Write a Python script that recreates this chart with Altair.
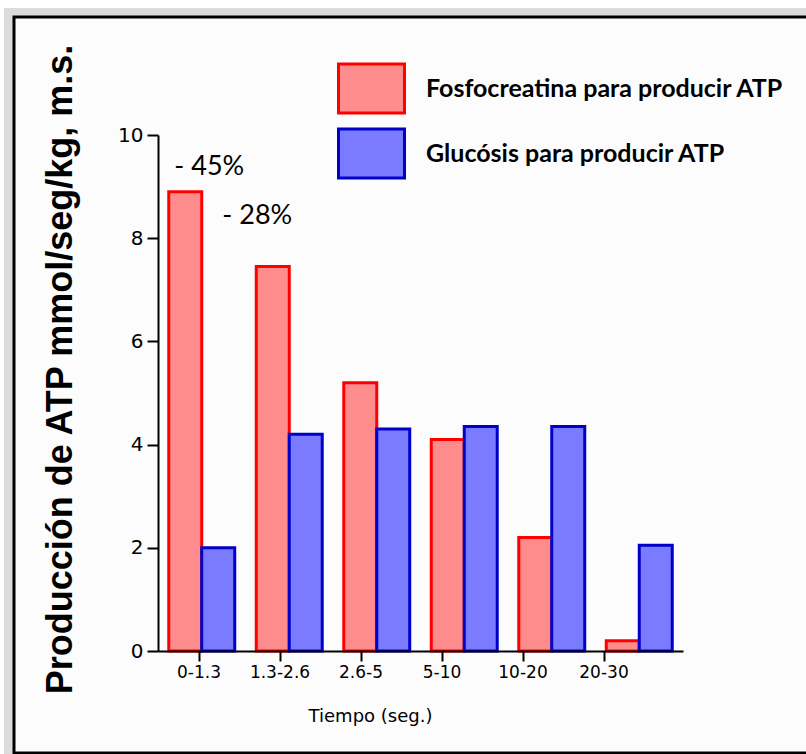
import altair as alt
import pandas as pd

# Time windows and ATP production rates (mmol/s/kg dry muscle)
tiempos = ["0-1.3", "1.3-2.6", "2.6-5", "5-10", "10-20", "20-30"]
fosfocreatina = [8.9, 7.45, 5.2, 4.1, 2.2, 0.2]
glucolisis = [2.0, 4.2, 4.3, 4.35, 4.35, 2.05]
series = ["Fosfocreatina para producir ATP", "Glucósis para producir ATP"]
caidas = ["- 45%", "- 28%"]
y_ticks = [0, 2, 4, 6, 8, 10]

rows = []
for t, f, g in zip(tiempos, fosfocreatina, glucolisis):
    rows.append({"Tiempo": t, "Serie": series[0], "ATP": f})
    rows.append({"Tiempo": t, "Serie": series[1], "ATP": g})
df = pd.DataFrame(rows)

W, H = 525, 516
fills = ["#ff8c8c", "#7b7bff"]
strokes = ["#ff0000", "#0000c8"]

one = pd.DataFrame({"k": [0]})

# page frame: grey band and black bordered panel
grey = alt.Chart(one).mark_rect(fill="#dcdcdc").encode(
    x=alt.value(-154), x2=alt.value(700), y=alt.value(-127), y2=alt.value(640)
)
panel = alt.Chart(one).mark_rect(fill="#fcfcfc", stroke="black", strokeWidth=3).encode(
    x=alt.value(-144), x2=alt.value(700), y=alt.value(-118), y2=alt.value(618)
)

x_bars = alt.X(
    "Tiempo:N", sort=tiempos,
    scale=alt.Scale(paddingInner=0.246, paddingOuter=0.123),
    axis=alt.Axis(labels=False, ticks=False, domain=True, domainColor="black",
                  domainWidth=2, title=None, orient="bottom", zindex=1),
)
y_enc = alt.Y(
    "ATP:Q", scale=alt.Scale(domain=[0, 10]),
    axis=alt.Axis(
        values=y_ticks, grid=False, domainColor="black", domainWidth=2,
        tickColor="black", tickWidth=2, tickSize=11, zindex=1,
        labelFont="DejaVu Sans", labelFontSize=20, labelColor="black", labelPadding=4,
        title="Producción de ATP mmol/seg/kg, m.s.",
        titleFont="Liberation Sans", titleFontSize=36, titleFontWeight="bold",
        titleColor="black", titleX=-98, titleY=234, titleBaseline="middle",
        titleAlign="center", titleAngle=270,
    ),
)
x_off = alt.XOffset("Serie:N", sort=series, scale=alt.Scale(paddingInner=0, paddingOuter=0))

bars = alt.Chart(df).mark_bar(strokeWidth=3, opacity=1).encode(
    x=x_bars,
    xOffset=x_off,
    y=y_enc,
    fill=alt.Fill("Serie:N", sort=series,
                  scale=alt.Scale(domain=series, range=fills), title=None),
    stroke=alt.Stroke("Serie:N", sort=series,
                      scale=alt.Scale(domain=series, range=strokes), title=None),
)

first = alt.datum.Tiempo == tiempos[0]
is_fosfo = alt.datum.Serie == series[0]
base_txt = alt.Chart(df).transform_filter(first & is_fosfo)
txt45 = base_txt.mark_text(font="Lato", fontSize=27, color="black", dx=24, dy=-25).encode(
    x=x_bars, xOffset=x_off, y=alt.Y("ATP:Q"), text=alt.value(caidas[0])
)
txt28 = base_txt.mark_text(font="Lato", fontSize=27, color="black", dx=72, dy=24).encode(
    x=x_bars, xOffset=x_off, y=alt.Y("ATP:Q"), text=alt.value(caidas[1])
)

plot = alt.layer(bars, txt45, txt28)

# category axis with ticks and labels
axis_layer = alt.Chart(df).mark_point(opacity=0).encode(
    x=alt.X(
        "Tiempo:N", sort=tiempos,
        scale=alt.Scale(range=[0, 486], paddingInner=0, paddingOuter=0),
        axis=alt.Axis(
            orient="bottom", domain=False, tickColor="black", tickWidth=2, tickSize=10,
            zindex=1,
            labelFont="DejaVu Sans", labelFontSize=17, labelColor="black",
            labelPadding=3, labelAngle=0,
            title="Tiempo (seg.)", titleFont="DejaVu Sans", titleFontSize=18,
            titleFontWeight="normal", titleColor="black",
            titleX=212, titleY=65, titleBaseline="middle", titleAlign="center",
        ),
    ),
    y=alt.Y("ATP:Q"),
)

chart = alt.layer(grey, panel, plot, axis_layer).resolve_scale(
    x="independent"
).properties(
    width=W, height=H,
    autosize=alt.AutoSizeParams(type="none"),
    padding={"left": 158, "top": 135, "right": 123, "bottom": 103},
    background="white",
).configure_view(stroke=None).configure_legend(
    orient="none", legendX=179, legendY=-81, padding=0,
    symbolType="M-1,-0.74L1,-0.74L1,0.74L-1,0.74Z", symbolSize=4356,
    symbolStrokeWidth=3, symbolOpacity=1,
    labelFont="Lato", labelFontSize=25, labelFontWeight="bold", labelColor="black",
    labelOffset=20, rowPadding=0, labelLimit=600,
)

chart.save("out.html", embed_options={"renderer": "svg", "actions": False})
